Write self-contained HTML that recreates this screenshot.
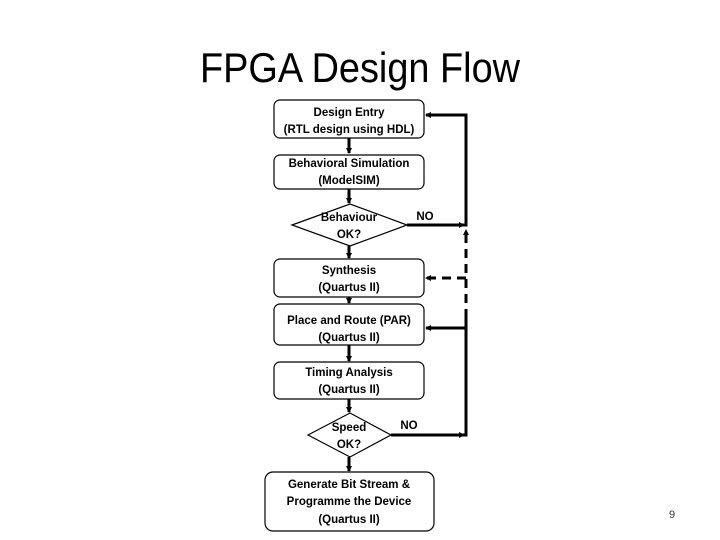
<!DOCTYPE html>
<html><head><style>
body{margin:0;background:#fff;}
svg{display:block;font-family:"Liberation Sans",sans-serif;}
</style></head><body>
<svg width="720" height="540" viewBox="0 0 720 540" xmlns="http://www.w3.org/2000/svg">
<defs>
<marker id="a" markerWidth="6" markerHeight="6" refX="5" refY="3" orient="auto" markerUnits="userSpaceOnUse"><path d="M0,0 L6,3 L0,6 z" fill="#000"/></marker>
</defs>
<text x="360" y="82" font-size="42" text-anchor="middle" textLength="320" lengthAdjust="spacingAndGlyphs">FPGA Design Flow</text>
<g stroke="#000" stroke-width="3" fill="none">
<line x1="349" y1="138" x2="349" y2="153" marker-end="url(#a)"/>
<line x1="349" y1="189" x2="349" y2="203" marker-end="url(#a)"/>
<line x1="349" y1="246" x2="349" y2="258" marker-end="url(#a)"/>
<line x1="349" y1="297" x2="349" y2="303" marker-end="url(#a)"/>
<line x1="349" y1="345" x2="349" y2="361" marker-end="url(#a)"/>
<line x1="349" y1="399" x2="349" y2="412" marker-end="url(#a)"/>
<line x1="349" y1="457" x2="349" y2="471" marker-end="url(#a)"/>
<polyline points="407,225 466,225 466,115 426,115" marker-end="url(#a)"/>
<line x1="407" y1="225" x2="464" y2="225" marker-end="url(#a)"/>
<polyline points="391,435 466,435 466,318"/>
<line x1="391" y1="435" x2="464" y2="435" marker-end="url(#a)"/>
<line x1="466" y1="328" x2="426" y2="328" marker-end="url(#a)"/>
<line x1="466" y1="318" x2="466" y2="230" stroke-dasharray="9,6" marker-end="url(#a)"/>
<line x1="466" y1="278" x2="426" y2="278" stroke-dasharray="9,6" marker-end="url(#a)"/>
</g>
<g fill="#fff" stroke="#000" stroke-width="1.2">
<rect x="274" y="100" width="150" height="38" rx="6"/>
<rect x="274" y="155" width="150" height="34" rx="6"/>
<polygon points="292,225 350,204 407,225 350,246"/>
<rect x="274" y="259" width="150" height="38" rx="6"/>
<rect x="274" y="304" width="150" height="41" rx="6"/>
<rect x="274" y="362" width="150" height="37" rx="6"/>
<polygon points="308,435 350,413 391,435 350,457"/>
<rect x="265" y="472" width="169" height="59" rx="8"/>
</g>
<g font-size="11.5" font-weight="bold" text-anchor="middle" fill="#000">
<text x="349" y="116">Design Entry</text>
<text x="349" y="133">(RTL design using HDL)</text>
<text x="349" y="167">Behavioral Simulation</text>
<text x="349" y="184">(ModelSIM)</text>
<text x="349" y="221">Behaviour</text>
<text x="349" y="238">OK?</text>
<text x="349" y="274">Synthesis</text>
<text x="349" y="291">(Quartus II)</text>
<text x="349" y="324">Place and Route (PAR)</text>
<text x="349" y="341">(Quartus II)</text>
<text x="349" y="376">Timing Analysis</text>
<text x="349" y="393">(Quartus II)</text>
<text x="349" y="431">Speed</text>
<text x="349" y="448">OK?</text>
<text x="349" y="488">Generate Bit Stream &amp;</text>
<text x="349" y="505">Programme the Device</text>
<text x="349" y="523">(Quartus II)</text>
<text x="425" y="220">NO</text>
<text x="409" y="429">NO</text>
</g>
<text x="672" y="518" font-size="11" text-anchor="middle" fill="#333">9</text>
</svg>
</body></html>
